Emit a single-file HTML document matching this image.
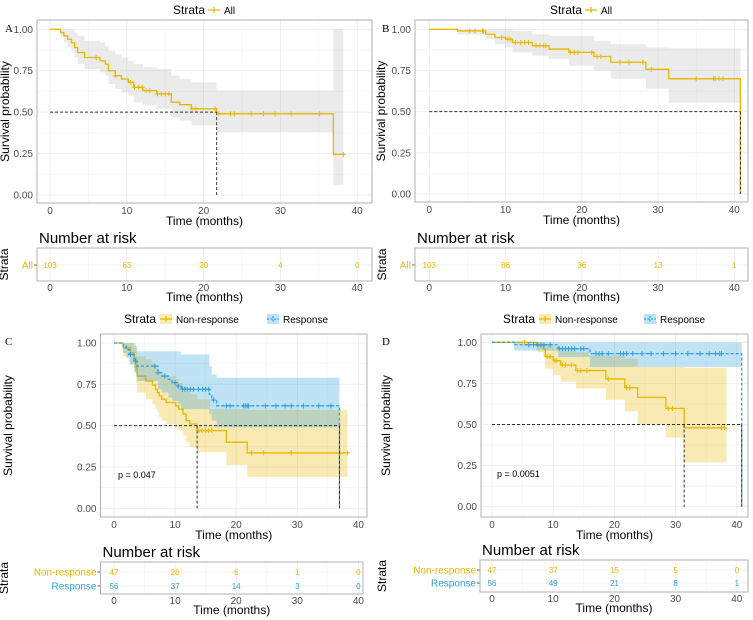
<!DOCTYPE html>
<html><head><meta charset="utf-8"><style>
body{margin:0;background:#fff}
svg{display:block;font-family:"Liberation Sans",sans-serif}
</style></head><body>
<svg id="fig" width="753" height="620" viewBox="0 0 753 620" xmlns="http://www.w3.org/2000/svg"></svg>
<script>
// ---- Data: panel A ----
const A_times=[0,1.4,1.8,2.3,2.8,3.2,3.6,4.5,6.5,7.2,7.6,8.5,9.3,10.2,10.9,12.1,13.9,15.8,16.9,18.4,21.7,36.9];
const A_surv=[1,0.98,0.96,0.94,0.92,0.89,0.86,0.83,0.81,0.79,0.75,0.72,0.70,0.68,0.65,0.63,0.61,0.56,0.545,0.52,0.49,0.245];
const A_upper=[1,1,1,1,1,0.98,0.96,0.93,0.92,0.90,0.87,0.85,0.83,0.81,0.79,0.77,0.76,0.72,0.70,0.68,0.63,1.0];
const A_lower=[1,0.95,0.92,0.89,0.87,0.83,0.79,0.76,0.74,0.72,0.67,0.64,0.62,0.60,0.56,0.54,0.52,0.47,0.45,0.42,0.38,0.06];
const A_censor=[6,8.5,10.5,11,11.5,12,12.5,13,14,14.5,15,15.5,18.5,19,21.5,22,23.5,24,26.2,27.8,29.3,31.4,35.1,38.2];
const A_end=38.2;
const A_risk=[103,63,20,4,0];
// ---- Panel B ----
const B_times=[0,3.7,7.4,8.6,10,10.9,13.5,15.7,18.3,21.6,23.8,28.4,31.4,40.8];
const B_surv=[1,0.99,0.97,0.95,0.94,0.92,0.90,0.88,0.86,0.835,0.80,0.757,0.70,0];
const B_upper=[1,1,1,1,1,0.99,0.97,0.96,0.96,0.93,0.91,0.89,0.885,0];
const B_lower=[1,0.97,0.94,0.91,0.89,0.86,0.84,0.82,0.78,0.75,0.70,0.64,0.555,0];
const B_censor=[5.3,6,7,7.1,9.5,10.3,10.6,11.3,12,12.5,13,14,14.5,15,15.3,18.5,19,19.5,21.3,22,22.5,25,26.2,28,29.1,35,37.3,37.5,38,38.5];
const B_end=40.8;
const B_risk=[103,86,36,13,1];
// ---- Panel C ----
const C_nr_times=[0,1.5,2.7,3.3,3.6,3.8,5.2,6.3,6.8,7.1,7.4,7.8,8.5,10.1,10.6,11.3,11.8,12.4,13.6,15.7,18.4,21.8];
const C_nr_surv=[1,0.97,0.94,0.91,0.85,0.80,0.77,0.745,0.72,0.70,0.68,0.66,0.64,0.62,0.60,0.57,0.53,0.51,0.47,0.47,0.40,0.335];
const C_nr_upper=[1,1,1,1,0.96,0.92,0.90,0.88,0.86,0.84,0.83,0.81,0.80,0.78,0.76,0.74,0.71,0.69,0.66,0.60,0.60,0.595];
const C_nr_lower=[1,0.92,0.87,0.83,0.76,0.70,0.66,0.63,0.60,0.58,0.55,0.53,0.51,0.49,0.47,0.44,0.40,0.37,0.34,0.34,0.26,0.19];
const C_nr_censor=[13.9,14.4,15,15.5,16,22.5,24.5,29,38.2];
const C_nr_end=38.2;
const C_r_times=[0,1.5,2,2.5,3.3,3.8,7.2,7.8,8.9,9.5,10.5,11,15.6,16,16.8,36.9];
const C_r_surv=[1,0.98,0.96,0.93,0.89,0.86,0.82,0.80,0.78,0.76,0.74,0.72,0.69,0.655,0.62,0];
const C_r_upper=[1,1,1,1,0.98,0.95,0.95,0.95,0.95,0.95,0.95,0.93,0.86,0.81,0.79,0];
const C_r_lower=[1,0.94,0.91,0.87,0.82,0.77,0.72,0.70,0.67,0.65,0.63,0.60,0.57,0.53,0.49,0];
const C_r_censor=[2.7,3.5,6.7,7.2,8.3,10,10.5,11.2,11.6,12,12.5,13,13.8,14.5,15,15.5,16.3,18.4,19,21.2,21.5,21.8,22,24.8,26.5,28,29,31,33.5,35.5];
const C_r_end=36.9;
const C_risk_nr=[47,26,6,1,0];
const C_risk_r=[56,37,14,3,0];
// ---- Panel D ----
const D_nr_times=[0,7.3,8.4,8.7,10,11.2,13.7,15.8,18.6,21.7,23.8,28.4,31.4];
const D_nr_surv=[1,0.98,0.96,0.913,0.888,0.862,0.828,0.828,0.777,0.724,0.665,0.598,0.48];
const D_nr_upper=[1,1,1,0.99,0.97,0.95,0.94,0.92,0.92,0.90,0.85,0.85,0.845];
const D_nr_lower=[1,0.94,0.91,0.84,0.80,0.76,0.72,0.72,0.65,0.58,0.50,0.42,0.27];
const D_nr_censor=[5.3,9,9.5,10.3,10.6,11.5,12,13,14,14.5,15.5,19,22,22.5,28.8,29.5,37.5,38];
const D_nr_end=38.3;
const D_r_times=[0,3.6,10.8,16,40.8];
const D_r_surv=[1,0.985,0.961,0.931,0];
const D_r_upper=[1,1,1,1,0];
const D_r_lower=[1,0.95,0.91,0.85,0];
const D_r_censor=[6,6.8,7.5,8,8.5,9.5,11,11.5,12,12.5,13,13.5,14.5,15,17,17.5,18,19,21,21.5,22,23,24.5,26,28,30,32,34,35.5,36.5,37.2,37.5];
const D_r_end=40.8;
const D_risk_nr=[47,37,15,5,0];
const D_risk_r=[56,49,21,8,1];
const xTicks=[0,10,20,30,40];
const yTicks=[0,0.25,0.5,0.75,1];

const GOLD="#E7B800", BLUE="#2E9FDF";
const svg=document.getElementById('fig');
const NS="http://www.w3.org/2000/svg";
function mk(tag,attrs,parent){const e=document.createElementNS(NS,tag);for(const k in attrs)e.setAttribute(k,attrs[k]);(parent||svg).appendChild(e);return e;}
function txt(s,attrs,parent){const e=mk('text',attrs,parent);e.textContent=s;return e;}

function axes(P){
  const g=mk('g',{});
  
  
  const sx=t=>P.x0+t*P.px, sy=v=>P.y0-(P.y0-P.y1)*v;
  P.sx=sx;P.sy=sy;
  const [l,t,r,b]=P.box;
  mk('rect',{x:l,y:t,width:r-l,height:b-t,fill:'#fff'},g);
  for(let i=0;i<xTicks.length;i++){
    const mn=xTicks[i]+5; if(sx(mn)<r) mk('line',{x1:sx(mn),x2:sx(mn),y1:t,y2:b,stroke:'#f3f3f3','stroke-width':0.6},g);
    mk('line',{x1:sx(xTicks[i]),x2:sx(xTicks[i]),y1:t,y2:b,stroke:'#ebebeb','stroke-width':0.8},g);
  }
  for(let i=0;i<yTicks.length;i++){
    if(i<yTicks.length-1){const mv=yTicks[i]+0.125;mk('line',{x1:l,x2:r,y1:sy(mv),y2:sy(mv),stroke:'#f3f3f3','stroke-width':0.6},g);}
    mk('line',{x1:l,x2:r,y1:sy(yTicks[i]),y2:sy(yTicks[i]),stroke:'#ebebeb','stroke-width':0.8},g);
    const lab=txt(yTicks[i].toFixed(2),{x:l-4,y:sy(yTicks[i])+3.5,'text-anchor':'end','font-size':10,fill:'#4d4d4d'},g);
    
    
  }
  xTicks.forEach(v=>{
    const lab=txt(String(v),{x:sx(v),y:b+11,'text-anchor':'middle','font-size':10,fill:'#4d4d4d'},g);
    
    
  });
  const xt=txt('Time (months)',{x:(l+r)/2,y:b+22,'text-anchor':'middle','font-size':12,fill:'#000'},g);
  
  
  const yt=txt('Survival probability',{x:0,y:0,'text-anchor':'middle','font-size':12,fill:'#000',transform:`translate(${P.ytx},${(t+b)/2}) rotate(-90)`},g);
  
  
  const pl=txt(P.letter,{x:P.lx,y:P.ly,'font-size':11,'font-family':'Liberation Serif, serif',fill:'#000'},g);
  
  
  P.g=g;
}
function series(P,times,surv,up,lo,cens,end,color,band,dash,name){
  const sx=P.sx,sy=P.sy,g=P.g;
  const n=times.length;
  for(let i=0;i<n;i++){
    const t1=i<n-1?times[i+1]:end;
    if(t1<=times[i])continue;
    const r=mk('rect',{x:sx(times[i]),y:sy(up[i]),width:sx(t1)-sx(times[i]),height:sy(lo[i])-sy(up[i]),fill:band,'fill-opacity':band==='#999'?0.2:0.3},g);
    
    
  }
  let d=`M${sx(times[0])},${sy(surv[0])}`;
  for(let i=1;i<n;i++){d+=`H${sx(times[i])}V${sy(surv[i])}`;}
  d+=`H${sx(end)}`;
  const p=mk('path',{d:d,fill:'none',stroke:color,'stroke-width':1.3,'stroke-dasharray':dash?'3,2':'none'},g);
  
  
  P.curves.push({times,surv,cens,color,name});
}
function censorMarks(P){
  const sx=P.sx,sy=P.sy;
  P.curves.forEach(c=>{
    c.cens.forEach(ct=>{
      let k=0;for(let i=0;i<c.times.length;i++)if(c.times[i]<=ct)k=i;
      const x=sx(ct),y=sy(c.surv[k]);
      const m=mk('path',{d:`M${x-2.5},${y}H${x+2.5}M${x},${y-2.5}V${y+2.5}`,stroke:c.color,'stroke-width':1},P.g);
      
      
    });
  });
}
function median(P,hEnd,verts){
  const sx=P.sx,sy=P.sy;
  let d=`M${sx(0)},${sy(0.5)}H${sx(hEnd)}`;
  verts.forEach(v=>{d+=`M${sx(v)},${sy(0.5)}V${sy(0)}`;});
  const m=mk('path',{d:d,stroke:'#333',fill:'none','stroke-width':1,'stroke-dasharray':'3,2'},P.g);
  
  
}
function border(P){
  const [l,t,r,b]=P.box;
  mk('rect',{x:l,y:t,width:r-l,height:b-t,fill:'none',stroke:'#b0b0b0','stroke-width':1},P.g);
}
function legend(x,y,items){
  const g=mk('g',{});
  
  
  txt('Strata',{x:x,y:y+4,'font-size':12,fill:'#000'},g);
  items.forEach(it=>{
    const e=mk('g',{},g);
    
    
    if(it.box) mk('rect',{x:it.x-6,y:y-5,width:12,height:10,fill:it.color,'fill-opacity':0.3},e);
    mk('path',{d:`M${it.x-6},${y}H${it.x+6}M${it.x},${y-3}V${y+3}`,stroke:it.color,'stroke-width':1.2,'stroke-dasharray':it.dash?'2,1.5':'none'},e);
    txt(it.label,{x:it.x+10,y:y+4,'font-size':10,fill:'#000'},e);
  });
}
function riskTable(P,b,rows){
  const [l,t,r,bt]=b;const sx=P.sx;
  const g=mk('g',{});
  
  
  txt('Number at risk',{x:l+2,y:t-5,'font-size':15,fill:'#000'},g);
  mk('rect',{x:l,y:t,width:r-l,height:bt-t,fill:'#fff'},g);
  xTicks.forEach(v=>{
    if(sx(v+5)<r)mk('line',{x1:sx(v+5),x2:sx(v+5),y1:t,y2:bt,stroke:'#f3f3f3','stroke-width':0.6},g);
    mk('line',{x1:sx(v),x2:sx(v),y1:t,y2:bt,stroke:'#ebebeb','stroke-width':0.8},g);
    txt(String(v),{x:sx(v),y:bt+10,'text-anchor':'middle','font-size':10,fill:'#4d4d4d'},g);
  });
  rows.forEach(rw=>{
    mk('line',{x1:l,x2:r,y1:rw.y,y2:rw.y,stroke:'#ebebeb','stroke-width':0.8},g);
    const lab=txt(rw.label,{x:l-4,y:rw.y+3.5,'text-anchor':'end','font-size':10,fill:rw.color},g);
    
    
    mk('line',{x1:l-3,x2:l,y1:rw.y,y2:rw.y,stroke:'#333','stroke-width':0.8},g);
    rw.vals.forEach((v,i)=>{
      const c=txt(String(v),{x:sx(xTicks[i]),y:rw.y+3,'text-anchor':'middle','font-size':8,fill:rw.color},g);
      
      
    });
  });
  mk('rect',{x:l,y:t,width:r-l,height:bt-t,fill:'none',stroke:'#b0b0b0','stroke-width':1},g);
  txt('Time (months)',{x:(l+r)/2,y:bt+20,'text-anchor':'middle','font-size':12,fill:'#000'},g);
  txt('Strata',{x:0,y:0,'text-anchor':'middle','font-size':12,fill:'#000',transform:`translate(${P.stx},${(t+bt)/2}) rotate(-90)`},g);
}

// Panel A
const PA={name:'panel-a',letter:'A',lx:5,ly:32,ytx:9,stx:8,x0:50,px:7.68,y1:29.3,y0:195,box:[37,20,372,203],curves:[]};
axes(PA);
series(PA,A_times,A_surv,A_upper,A_lower,A_censor,A_end,GOLD,'#999',false,'all');
median(PA,21.7,[21.7]);
censorMarks(PA);border(PA);
legend(173,10,[{x:214,color:GOLD,label:'All'}]);
riskTable(PA,[37,248,372,281],[{y:265,label:'All',color:GOLD,vals:A_risk}]);

// Panel B
const PB={name:'panel-b',letter:'B',lx:382,ly:32,ytx:385,stx:386,x0:429.3,px:7.625,y1:29.3,y0:194,box:[415,20,748,202],curves:[]};
axes(PB);
series(PB,B_times,B_surv,B_upper,B_lower,B_censor,B_end,GOLD,'#999',false,'all');
median(PB,40.8,[40.8]);
censorMarks(PB);border(PB);
legend(550,10,[{x:591,color:GOLD,label:'All'}]);
riskTable(PB,[415,248,748,281],[{y:265,label:'All',color:GOLD,vals:B_risk}]);

// Panel C
const PC={name:'panel-c',letter:'C',lx:5,ly:345,ytx:12,stx:8,x0:114,px:6.11,y1:343,y0:508.3,box:[100.5,334,367,517],curves:[]};
axes(PC);
series(PC,C_nr_times,C_nr_surv,C_nr_upper,C_nr_lower,C_nr_censor,C_nr_end,GOLD,GOLD,false,'non-response');
series(PC,C_r_times,C_r_surv,C_r_upper,C_r_lower,C_r_censor,C_r_end,BLUE,BLUE,true,'response');
median(PC,36.9,[13.6,36.9]);
censorMarks(PC);border(PC);
let pc=txt('p = 0.047',{x:118,y:478,'font-size':9,fill:'#000'});


legend(124,319,[{x:166,color:GOLD,label:'Non-response',box:true},{x:273,color:BLUE,label:'Response',box:true,dash:true}]);
riskTable(PC,[100.5,562,363,594],[{y:572,label:'Non-response',color:GOLD,vals:C_risk_nr},{y:586,label:'Response',color:BLUE,vals:C_risk_r}]);

// Panel D
const PD={name:'panel-d',letter:'D',lx:382,ly:345,ytx:390,stx:386,x0:492,px:6.12,y1:342.3,y0:506.7,box:[481,334,748,517],curves:[]};
axes(PD);
series(PD,D_nr_times,D_nr_surv,D_nr_upper,D_nr_lower,D_nr_censor,D_nr_end,GOLD,GOLD,false,'non-response');
series(PD,D_r_times,D_r_surv,D_r_upper,D_r_lower,D_r_censor,D_r_end,BLUE,BLUE,true,'response');
median(PD,40.8,[31.4,40.8]);
censorMarks(PD);border(PD);
let pd=txt('p = 0.0051',{x:497,y:477,'font-size':9,fill:'#000'});


legend(503,319,[{x:545,color:GOLD,label:'Non-response',box:true},{x:650,color:BLUE,label:'Response',box:true,dash:true}]);
riskTable(PD,[480,560,748,592],[{y:570,label:'Non-response',color:GOLD,vals:D_risk_nr},{y:583,label:'Response',color:BLUE,vals:D_risk_r}]);
</script>
</body></html>
